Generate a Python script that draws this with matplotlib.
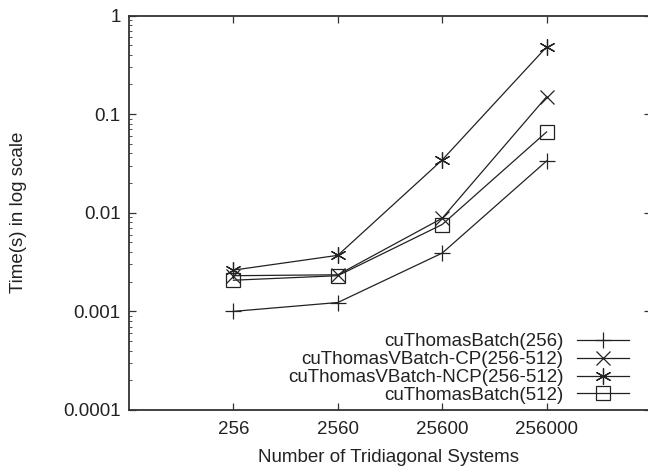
import matplotlib
matplotlib.use("Agg")
import matplotlib.pyplot as plt
from matplotlib.ticker import LogLocator, FixedLocator, NullFormatter, NullLocator

plt.rcParams['font.family'] = ['Liberation Sans', 'DejaVu Sans']

systems = [256, 2560, 25600, 256000]
x_ticklabels = ['256', '2560', '25600', '256000']
batch256 = [0.00100, 0.00123, 0.0039, 0.0335]
vbatch_cp = [0.00230, 0.00235, 0.0088, 0.150]
vbatch_ncp = [0.00262, 0.0037, 0.0343, 0.480]
batch512 = [0.00207, 0.00230, 0.0076, 0.066]
y_ticks = [0.0001, 0.001, 0.01, 0.1, 1]
y_ticklabels = ['0.0001', '0.001', '0.01', '0.1', '1']

W, H = 648, 470
L, R, T, B = 129, 651, 15.5, 410
fig = plt.figure(figsize=(W/100, H/100), dpi=100)
ax = fig.add_axes([L/W, 1-B/H, (R-L)/W, (B-T)/H])

col = '#222222'
ms = 11
fs = 13.5
ax.plot(systems, batch256, color=col, lw=0.9, marker='+', ms=ms, mew=0.9, label='cuThomasBatch(256)')
ax.plot(systems, vbatch_cp, color=col, lw=0.9, marker='x', ms=ms*0.95, mew=0.9, label='cuThomasVBatch-CP(256-512)')
ax.plot(systems, vbatch_ncp, color=col, lw=0.9, marker=(6, 2, 0), ms=ms*1.05, mew=0.9, label='cuThomasVBatch-NCP(256-512)')
ax.plot(systems, batch512, color=col, lw=0.9, marker='s', ms=ms*0.95, mew=0.9, mfc='none', label='cuThomasBatch(512)')

ax.set_xscale('log')
ax.set_yscale('log')
ax.set_xlim(25.6, 2560000)
ax.set_ylim(0.0001, 1)
ax.xaxis.set_major_locator(FixedLocator(systems))
ax.set_xticklabels(x_ticklabels)
ax.xaxis.set_minor_locator(NullLocator())
ax.yaxis.set_major_locator(FixedLocator(y_ticks))
ax.set_yticklabels(y_ticklabels)
ax.yaxis.set_minor_locator(LogLocator(base=10, subs=range(2, 10)))
ax.yaxis.set_minor_formatter(NullFormatter())

ax.tick_params(which='both', direction='in', top=True, right=True, colors='#333333',
               labelcolor='#222222', labelsize=fs)
ax.tick_params(which='major', length=5, width=0.9)
ax.tick_params(which='minor', length=2.5, width=0.6)
ax.tick_params(axis='x', pad=8)
ax.tick_params(axis='y', pad=6)
for s in ax.spines.values():
    s.set_linewidth(1.3)
    s.set_color('#333333')

ax.set_xlabel('Number of Tridiagonal Systems', fontsize=fs, color='#222222', va='center')
ax.set_ylabel('Time(s) in log scale', fontsize=fs, color='#222222', va='center')
ax.xaxis.set_label_coords((388 - L)/(R - L), -(457 - B)/(B - T))
ax.yaxis.set_label_coords(-(L - 19)/(R - L), (B - 212)/(B - T))

leg = ax.legend(loc='lower right', bbox_to_anchor=((629 - L)/(R - L), (B - 404)/(B - T)), frameon=False,
                markerfirst=False, fontsize=fs, handlelength=2.8, handletextpad=0.7,
                labelspacing=0.04, borderpad=0, borderaxespad=0)
for t in leg.get_texts():
    t.set_color('#222222')
fig.savefig('out.png', dpi=100)
